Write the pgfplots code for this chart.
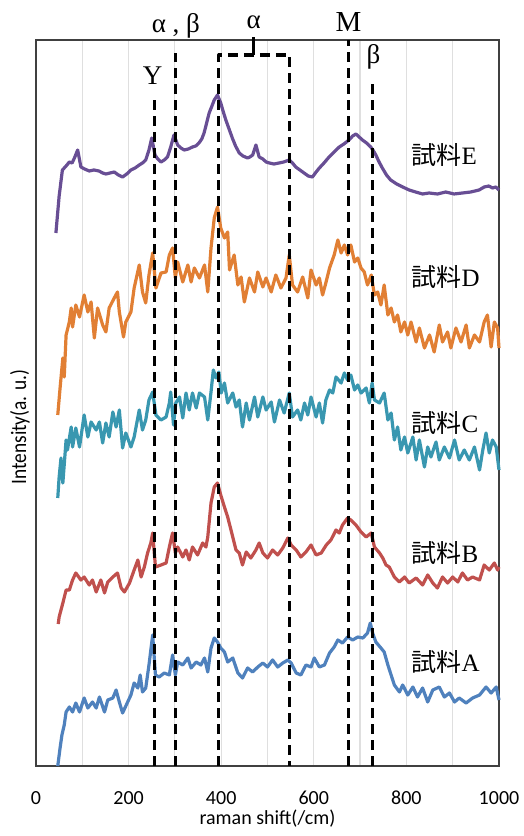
\documentclass[border=0pt]{standalone}
\usepackage{fontspec}
\setmainfont{Liberation Serif}
\setsansfont{Carlito}
\newfontfamily\cjk{Noto Sans CJK JP}
\usepackage{pgfplots}
\pgfplotsset{compat=1.18}

\definecolor{sE}{RGB}{104,78,148}
\definecolor{sD}{RGB}{225,127,52}
\definecolor{sC}{RGB}{57,151,176}
\definecolor{sB}{RGB}{192,80,77}
\definecolor{sA}{RGB}{79,129,189}

\begin{document}
\begin{tikzpicture}
\path[use as bounding box] (-18pt,-35pt) rectangle (244pt,383pt);
\begin{axis}[
  at={(0,0)}, anchor=south west,
  scale only axis,
  width=231.5pt, height=363pt,
  xmin=0, xmax=1000, ymin=0, ymax=726,
  xtick={0,200,...,1000},
  minor x tick num=1,
  ytick=\empty,
  major tick length=0pt, minor tick length=0pt,
  xmajorgrids, xminorgrids,
  grid style={gray!25, line width=0.6pt},
  axis line style={black!75, line width=0.6pt},
  tick label style={font=\sffamily\fontsize{10}{12}\selectfont},
  /pgf/number format/assume math mode=true,
  /pgf/number format/1000 sep={},
  xticklabel style={yshift=-9pt},
  xlabel={raman shift(/cm)},
  xlabel style={font=\sffamily\fontsize{10}{12}\selectfont, at={(axis description cs:0.5,0)}, anchor=center, yshift=-26.5pt},
  clip=false,
  every axis plot/.append style={line width=1.6pt, line join=round},
]
% 試料E
\addplot[sE] coordinates {
(43,533) (50,570) (57,596) (65,600) (72,604) (78,603) (83,608) (90,616) (97,599)
(105,597) (115,595) (125,596) (136,595) (144,593) (151,592) (160,593) (169,594)
(178,591) (187,589) (196,592) (205,596) (214,598) (223,601) (230,603) (237,606)
(244,616) (250,628) (257,611) (263,607) (270,604) (277,606) (284,609) (291,619)
(298,631) (306,621) (313,618) (320,616) (329,617) (338,619) (345,620) (352,623)
(358,627) (363,633) (368,642) (374,653) (380,660) (385,666) (392,671) (399,663)
(404,655) (410,646) (417,637) (424,628) (431,620) (439,613) (447,610) (457,608)
(462,609) (468,611) (475,621) (482,609) (490,607) (497,604) (504,603) (514,602)
(525,603) (535,604) (547,606) (554,603) (561,599) (570,596) (579,593) (588,590)
(597,589) (605,594) (612,598) (622,603) (633,609) (644,614) (655,619) (665,622)
(676,626) (684,630) (691,632) (698,629) (705,626) (714,623) (723,619) (729,615)
(734,611) (741,604) (748,598) (757,591) (766,586) (779,582) (792,579) (806,576)
(820,574) (835,572) (849,573) (867,572) (885,574) (903,572) (921,573) (939,574)
(957,576) (968,579) (978,580) (986,578) (993,579) (1000,576)
};
% 試料D
\addplot[sD] coordinates {
(47,351) (52,378) (58,408) (61,389) (65,431) (72,444) (76,458) (79,439) (86,461)
(94,449) (104,471) (112,454) (119,464) (126,428) (133,458) (144,441) (151,434)
(158,458) (169,468) (176,474) (180,454) (189,429) (194,444) (205,454) (212,478)
(223,501) (230,474) (237,463) (244,491) (252,513) (259,478) (270,493) (281,494)
(288,511) (295,518) (301,488) (306,504) (317,484) (328,501) (335,484) (342,498)
(353,488) (364,501) (371,474) (378,518) (385,548) (392,559) (399,538) (407,528)
(414,534) (418,496) (428,511) (436,481) (443,489) (450,464) (461,488) (472,474)
(479,494) (490,479) (497,488) (508,474) (518,491) (529,478) (540,488) (547,511)
(554,481) (565,474) (576,489) (587,468) (594,496) (605,481) (612,488) (619,471)
(626,483) (634,498) (644,511) (652,526) (659,513) (666,521) (673,511) (680,521)
(688,504) (695,508) (702,498) (709,494) (716,481) (724,491) (731,471) (738,474)
(745,461) (752,481) (760,451) (767,458) (774,444) (781,451) (788,434) (796,444)
(803,431) (810,444) (821,424) (828,438) (839,418) (850,431) (860,414) (871,441)
(878,424) (889,434) (896,418) (907,438) (918,424) (929,441) (936,418) (947,431)
(958,424) (968,444) (975,451) (983,419) (990,444) (997,438) (1000,418)
};
% 試料C
\addplot[sC] coordinates {
(47,268) (50,289) (54,308) (58,283) (65,326) (68,316) (76,339) (79,319) (86,338)
(94,319) (104,351) (112,329) (119,344) (130,336) (137,344) (144,323) (151,343)
(158,329) (166,354) (173,339) (180,356) (187,318) (194,333) (205,319) (212,329)
(223,356) (230,336) (237,346) (244,366) (252,374) (259,351) (270,346) (281,349)
(288,363) (291,374) (297,341) (302,363) (310,369) (317,348) (324,373) (331,356)
(338,373) (346,358) (353,373) (364,369) (371,346) (378,374) (383,396) (389,388)
(395,394) (400,373) (407,383) (414,363) (425,373) (432,359) (439,366) (446,339)
(454,363) (461,346) (472,369) (479,349) (490,369) (497,356) (508,364) (515,344)
(526,366) (536,353) (547,373) (554,349) (565,356) (572,346) (580,363) (587,351)
(594,369) (605,349) (612,363) (619,343) (626,366) (634,376) (641,373) (648,389)
(659,383) (666,393) (673,386) (680,391) (688,376) (695,381) (702,373) (713,378)
(720,363) (726,383) (731,366) (742,363) (752,373) (760,346) (767,353) (774,326)
(781,339) (788,316) (796,329) (803,313) (814,329) (821,306) (828,326) (839,299)
(846,319) (853,309) (864,324) (871,306) (882,319) (893,308) (904,326) (914,306)
(925,316) (936,306) (947,319) (958,296) (965,316) (972,333) (979,313) (986,326)
(994,319) (1000,296)
};
% 試料B
\addplot[sB] coordinates {
(48,142) (50,149) (58,163) (65,176) (72,176) (79,186) (86,193) (97,186) (104,189)
(115,181) (122,186) (130,174) (140,186) (148,173) (155,184) (166,189) (176,193)
(184,178) (191,174) (202,183) (212,196) (220,206) (227,189) (234,199) (241,213)
(248,223) (252,233) (258,199) (270,201) (281,203) (288,219) (295,233) (301,213)
(306,219) (317,209) (324,216) (331,206) (338,219) (349,211) (360,223) (367,219)
(371,229) (378,263) (385,279) (392,283) (399,271) (407,259) (414,249) (425,229)
(432,216) (439,213) (446,201) (454,214) (464,208) (475,216) (482,223) (490,213)
(500,208) (511,216) (522,211) (533,218) (544,228) (551,221) (562,216) (572,209)
(583,214) (594,221) (605,211) (616,213) (627,221) (637,226) (648,236) (655,233)
(662,241) (673,248) (680,246) (691,241) (702,234) (713,229) (724,233) (731,219)
(742,213) (749,208) (756,201) (763,199) (774,189) (785,184) (796,189) (806,183)
(821,188) (835,181) (846,191) (857,183) (867,178) (878,189) (889,183) (900,189)
(911,184) (921,193) (932,186) (943,189) (958,186) (968,201) (979,196) (990,203)
(997,196) (1000,199)
};
% 試料A
\addplot[sA] coordinates {
(47,0) (52,18) (56,31) (61,41) (65,54) (72,59) (79,54) (86,63) (94,54) (104,68)
(112,58) (122,64) (130,58) (137,69) (148,54) (155,66) (166,68) (173,76) (180,64)
(187,53) (198,64) (205,71) (212,83) (220,78) (225,91) (230,74) (237,78) (244,101)
(252,131) (258,91) (266,89) (277,93) (288,91) (295,111) (301,91) (306,104)
(317,101) (328,108) (335,98) (346,104) (356,101) (364,108) (371,94) (378,118)
(385,128) (392,124) (399,118) (407,114) (414,104) (425,108) (436,93) (446,88)
(457,98) (468,94) (479,99) (490,103) (500,99) (511,106) (522,99) (533,103)
(544,106) (551,103) (562,93) (572,91) (583,101) (594,99) (601,108) (612,99)
(623,101) (634,113) (644,119) (652,126) (662,123) (673,129) (684,126) (695,129)
(706,128) (716,133) (722,143) (727,133) (734,124) (745,118) (752,114) (760,101)
(767,91) (774,81) (785,74) (792,81) (803,71) (814,79) (824,69) (835,78) (846,64)
(857,76) (871,79) (882,69) (893,73) (904,64) (914,68) (929,63) (943,68) (958,71)
(972,79) (983,73) (994,79) (1000,66)
};
% peak markers
\addplot[black, line width=1.6pt, dash pattern=on 5pt off 3pt] coordinates {(256,0) (256,666)};
\addplot[black, line width=1.6pt, dash pattern=on 5pt off 3pt] coordinates {(302,0) (302,713)};
\addplot[black, line width=1.6pt, dash pattern=on 5pt off 3pt] coordinates {(395,0) (395,711) (548,711) (548,0)};
\addplot[black, line width=1.6pt] coordinates {(470,711) (470,729)};
\addplot[black, line width=1.6pt, dash pattern=on 5pt off 3pt] coordinates {(675,0) (675,726)};
\addplot[black, line width=1.6pt, dash pattern=on 5pt off 3pt] coordinates {(727,0) (727,686)};

\node[font=\fontsize{13.5}{15}\selectfont] at (axis cs:252,690) {Y};
\node[font=\fontsize{13.5}{15}\selectfont] at (axis cs:302,740) {α , β};
\node[font=\fontsize{13.5}{15}\selectfont] at (axis cs:470,744) {α};
\node[font=\fontsize{14.5}{16}\selectfont] at (axis cs:675,744) {M};
\node[font=\fontsize{13.5}{15}\selectfont] at (axis cs:729,709) {β};

\node[anchor=west, font=\fontsize{12.5}{14}\selectfont] at (axis cs:796,611) {{\cjk 試料}E};
\node[anchor=west, font=\fontsize{12.5}{14}\selectfont] at (axis cs:796,489) {{\cjk 試料}D};
\node[anchor=west, font=\fontsize{12.5}{14}\selectfont] at (axis cs:796,343) {{\cjk 試料}C};
\node[anchor=west, font=\fontsize{12.5}{14}\selectfont] at (axis cs:796,213) {{\cjk 試料}B};
\node[anchor=west, font=\fontsize{12.5}{14}\selectfont] at (axis cs:796,104) {{\cjk 試料}A};

\node[rotate=90, font=\sffamily\fontsize{11}{13}\selectfont] at (axis description cs:-0.035,0.467) {\scalebox{0.88}[1]{Intensity(a. u.)}};
\end{axis}
\end{tikzpicture}
\end{document}
